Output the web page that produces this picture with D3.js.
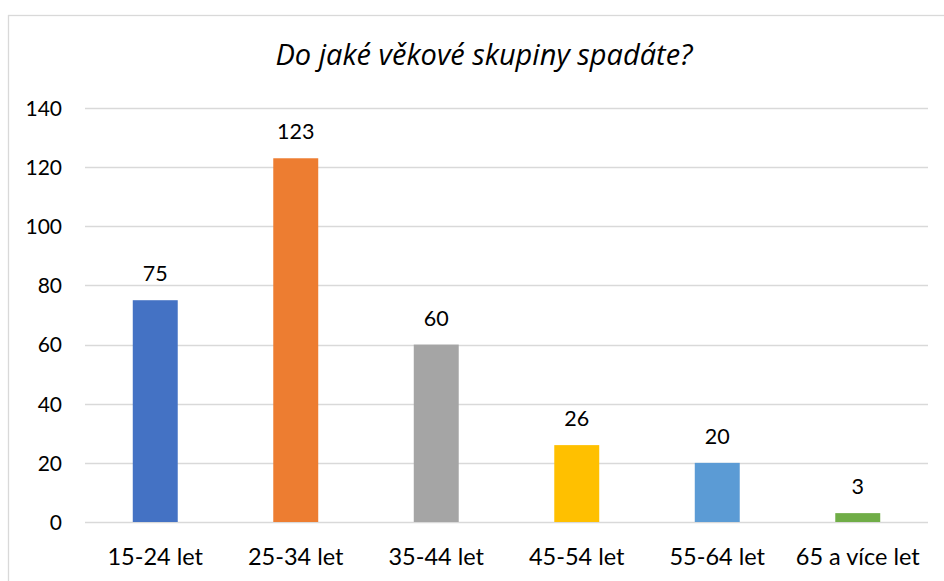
<!DOCTYPE html>
<html>
<head>
<meta charset="utf-8">
<script src="https://cdn.jsdelivr.net/npm/d3@7"></script>
<style>
  body { margin: 0; background: #fff; }
  svg text { font-family: Lato, "Open Sans", sans-serif; fill: #000; }
</style>
</head>
<body>
<div id="chart"></div>
<script>
// data
const categories = ["15-24 let", "25-34 let", "35-44 let", "45-54 let", "55-64 let", "65 a více let"];
const values = [75, 123, 60, 26, 20, 3];
const barColors = ["#4472C4", "#ED7D31", "#A5A5A5", "#FFC000", "#5B9BD5", "#70AD47"];
const yTicks = [0, 20, 40, 60, 80, 100, 120, 140];
const title = "Do jaké věkové skupiny spadáte?";

const width = 944, height = 581;
const plot = {left: 85, right: 928, top: 108, bottom: 522};

const svg = d3.select("#chart")
    .append("svg")
    .attr("width", width)
    .attr("height", height);

// chart border
svg.append("rect")
    .attr("x", 8.5)
    .attr("y", 15.5)
    .attr("width", 960)
    .attr("height", 600)
    .attr("fill", "#fff")
    .attr("stroke", "#d9d9d9")
    .attr("stroke-width", 1.3);

svg.append("text")
    .attr("x", 484)
    .attr("y", 65)
    .attr("text-anchor", "middle")
    .style("font-family", "'Open Sans', sans-serif")
    .style("font-style", "italic")
    .style("font-size", "29px")
    .text(title);

let x = d3.scaleBand()
    .domain(categories)
    .range([plot.left, plot.right])
    .paddingInner(0.68)
    .paddingOuter(0.34);

let y = d3.scaleLinear()
    .domain([0, 140])
    .range([plot.bottom, plot.top]);

// gridlines
svg.append("g")
    .selectAll("line")
    .data(yTicks)
    .join("line")
    .attr("x1", plot.left)
    .attr("x2", plot.right)
    .attr("y1", d => Math.round(y(d)) + 0.5)
    .attr("y2", d => Math.round(y(d)) + 0.5)
    .attr("stroke", "#d9d9d9")
    .attr("stroke-width", 1.3);

// y axis labels
let yAxis = d3.axisLeft(y).tickValues(yTicks).tickSize(0).tickPadding(0);
let gy = svg.append("g")
    .attr("transform", `translate(62,0)`)
    .call(yAxis);
gy.select(".domain").remove();
gy.selectAll("text")
    .style("font-size", "21px")
    .attr("dy", "0.35em")
    .attr("fill", "#000");

// bars
svg.append("g")
    .selectAll("rect")
    .data(values)
    .join("rect")
    .attr("x", (d, i) => x(categories[i]))
    .attr("width", x.bandwidth())
    .attr("y", d => y(d))
    .attr("height", d => y(0) - y(d))
    .attr("fill", (d, i) => barColors[i]);

// data labels
svg.append("g")
    .selectAll("text")
    .data(values)
    .join("text")
    .attr("x", (d, i) => x(categories[i]) + x.bandwidth() / 2)
    .attr("y", d => y(d) - 19)
    .attr("text-anchor", "middle")
    .style("font-size", "21.5px")
    .text(d => d);

// x axis labels
let xAxis = d3.axisBottom(x).tickSize(0).tickPadding(0);
let gx = svg.append("g")
    .attr("transform", `translate(0,${plot.bottom})`)
    .call(xAxis);
gx.select(".domain").remove();
gx.selectAll("text")
    .style("font-size", "23.5px")
    .attr("y", 43)
    .attr("dy", 0)
    .attr("fill", "#000");
</script>
</body>
</html>
